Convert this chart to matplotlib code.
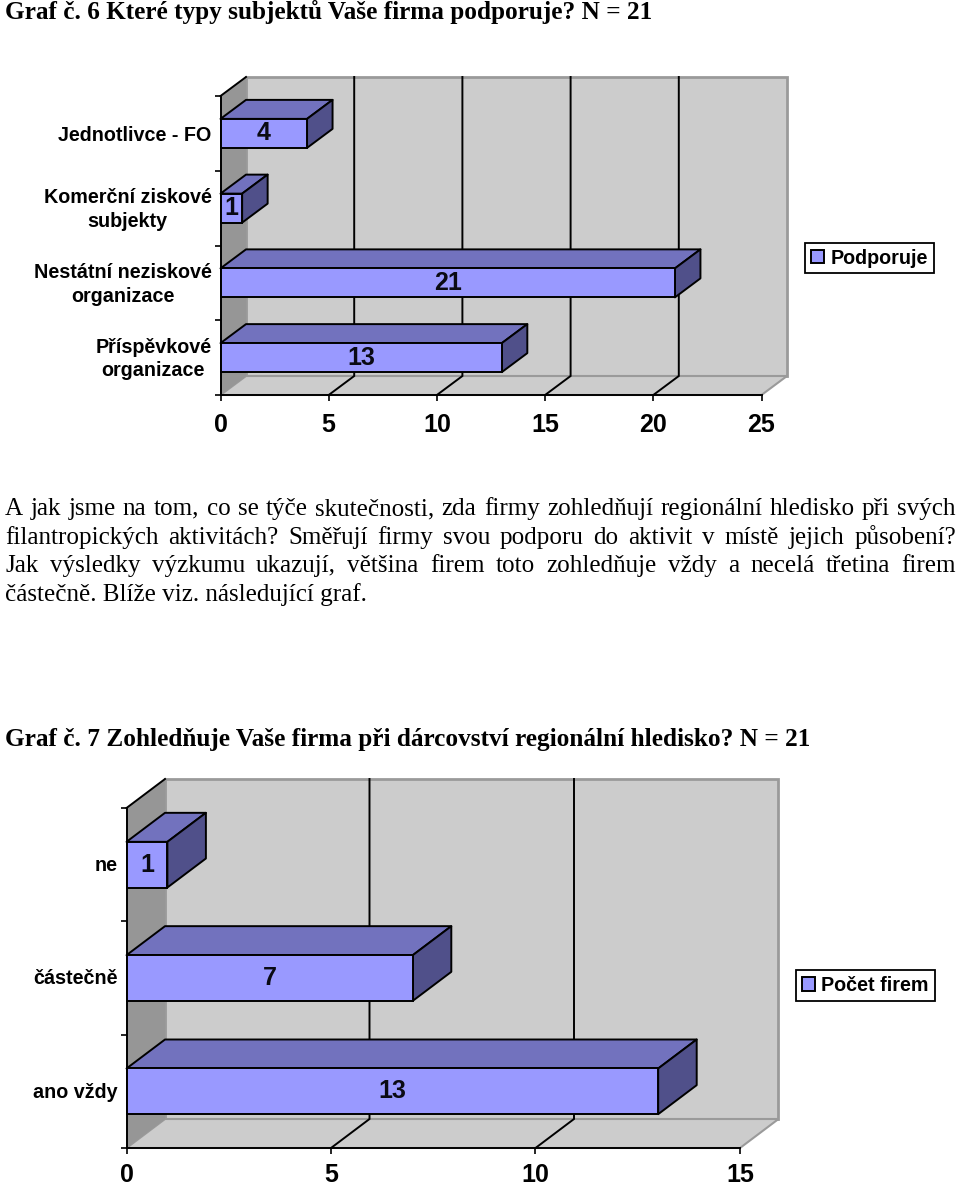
import matplotlib
matplotlib.use("Agg")
import matplotlib.pyplot as plt
from matplotlib.transforms import ScaledTranslation

W, H = 960, 1186
plt.rcParams['font.family'] = ['Liberation Sans', 'DejaVu Sans']

title1 = "Graf č. 6 Které typy subjektů Vaše firma podporuje? N = 21"
title2 = "Graf č. 7 Zohledňuje Vaše firma při dárcovství regionální hledisko? N = 21"
body_lines = [
    "A jak jsme na tom, co se týče skutečnosti, zda firmy zohledňují regionální hledisko při svých",
    "filantropických aktivitách? Směřují firmy svou podporu do aktivit v místě jejich působení?",
    "Jak výsledky výzkumu ukazují, většina firem toto zohledňuje vždy a necelá třetina firem",
    "částečně. Blíže viz. následující graf.",
]

cats1 = ["Jednotlivce - FO", "Komerční ziskové\nsubjekty", "Nestátní neziskové\norganizace", "Příspěvkové\norganizace"]
vals1 = [4, 1, 21, 13]
ticks1 = [0, 5, 10, 15, 20, 25]
legend1 = "Podporuje"

cats2 = ["ne", "částečně", "ano vždy"]
vals2 = [1, 7, 13]
ticks2 = [0, 5, 10, 15]
legend2 = "Počet firem"

FACE, TOP, SIDE = "#9999FF", "#7272BE", "#50508A"
WALL, LEFTWALL, EDGE = "#CCCCCC", "#969696", "#9A9A9A"
LW = 1.4

fig = plt.figure(figsize=(W / 100, H / 100), dpi=100, facecolor="white")


def chart(cats, vals, ticks, label, box, depth, bar_frac, legend_center, xpad, single_up, multi_up):
    x0, x1, ytop, ybot = box
    ax = fig.add_axes([x0 / W, 1 - ybot / H, (x1 - x0) / W, (ybot - ytop) / H])
    n = len(cats)
    ax.set_xlim(ticks[0], ticks[-1])
    ax.set_ylim(n - 0.5, -0.5)
    ax.patch.set_visible(False)
    for s in ax.spines.values():
        s.set_visible(False)
    dx = depth[0] / ((x1 - x0) / ticks[-1])
    dy = depth[1] / ((ybot - ytop) / n)
    bot, top = n - 0.5, -0.5
    xmax = ticks[-1]

    # back wall, left wall, floor
    ax.fill([dx, xmax + dx, xmax + dx, dx], [bot - dy, bot - dy, top - dy, top - dy],
            fc=WALL, ec=EDGE, lw=2, clip_on=False, zorder=1)
    ax.fill([0, xmax, xmax + dx, dx], [bot, bot, bot - dy, bot - dy],
            fc=WALL, ec=EDGE, lw=1.5, clip_on=False, zorder=1.1)
    ax.fill([0, dx, dx, 0], [bot, bot - dy, top - dy, top],
            fc=LEFTWALL, ec="none", clip_on=False, zorder=1.2)
    ax.plot([0, dx], [top, top - dy], color="black", lw=LW, clip_on=False, zorder=1.3)

    # grid on back wall and floor
    for t in ticks[1:-1]:
        ax.plot([t, t + dx, t + dx], [bot, bot - dy, top - dy], color="black", lw=LW,
                clip_on=False, zorder=1.5, solid_joinstyle="miter")

    # axis lines
    ax.plot([0, xmax], [bot, bot], color="black", lw=LW, clip_on=False, zorder=1.6)
    ax.plot([0, 0], [bot, top], color="black", lw=LW, clip_on=False, zorder=1.6)

    # bars
    ax.barh(range(n), vals, height=bar_frac, color=FACE, edgecolor="black",
            linewidth=LW, label=label, zorder=5, clip_on=False)
    for i, v in enumerate(vals):
        yt = i - bar_frac / 2
        yb = i + bar_frac / 2
        z = 3 + i * 0.01
        ax.fill([0, v, v + dx, dx], [yt, yt, yt - dy, yt - dy], fc=TOP, ec="black",
                lw=LW, clip_on=False, zorder=z, joinstyle="round")
        ax.fill([v, v + dx, v + dx, v], [yt, yt - dy, yb - dy, yb], fc=SIDE, ec="black",
                lw=LW, clip_on=False, zorder=z, joinstyle="round")
        ax.text(v / 2, i, str(v), ha="center", va="center", fontsize=18, fontweight="bold",
                color="#0A0A14", zorder=6)

    # ticks
    ax.set_xticks(ticks)
    ax.set_xticklabels([str(t) for t in ticks], fontsize=18, fontweight="bold")
    ax.tick_params(axis="x", length=4.2, width=1.2, pad=xpad)
    ax.set_yticks([i - 0.5 for i in range(n + 1)])
    ax.set_yticklabels([""] * (n + 1))
    ax.tick_params(axis="y", which="major", length=4.2, width=1.2)
    ax.set_yticks(list(range(n)), minor=True)
    ax.set_yticklabels(cats, minor=True, fontsize=14.2, fontweight="bold", multialignment="center",
                       linespacing=1.32)
    ax.tick_params(axis="y", which="minor", length=0, pad=6.5)
    for lab in ax.get_yticklabels(minor=True):
        up = multi_up if "\n" in lab.get_text() else single_up
        lab.set_transform(lab.get_transform() + ScaledTranslation(0, up / 100, fig.dpi_scale_trans))

    # legend
    leg = ax.legend(loc="center", bbox_to_anchor=(legend_center[0] / W, 1 - legend_center[1] / H),
                    bbox_transform=fig.transFigure, frameon=True, fancybox=False, framealpha=1,
                    edgecolor="black", prop={"size": 14.2, "weight": "bold"},
                    handlelength=0.66, handleheight=0.66, handletextpad=0.3,
                    borderpad=0.3, borderaxespad=0)
    leg.get_frame().set_linewidth(1.3)
    return ax


chart(cats1, vals1, ticks1, legend1, (220.5, 761.5, 96, 395), (25.5, 19), 29 / 74.75,
      (869.5, 258), 8.5, 0, 3)
chart(cats2, vals2, ticks2, legend2, (126.5, 740, 808, 1148), (38.5, 29), 45.7 / 113.4,
      (865.5, 985.5), 6.3, 1, 3)

SERIF = ["Liberation Serif", "DejaVu Serif"]
renderer = fig.canvas.get_renderer()


def put(x, y, s, **kw):
    return fig.text(x / W, 1 - y / H, s, family=SERIF, va="baseline", ha="left", **kw)


def justified(line, y, x0, x1, size):
    words = line.split(" ")
    arts = [put(x0, y, w, fontsize=size) for w in words]
    widths = [a.get_window_extent(renderer).width for a in arts]
    gap = (x1 - x0 - sum(widths)) / (len(words) - 1)
    x = x0
    for a, w in zip(arts, widths):
        a.set_x(x / W)
        x += w + gap


put(5, 19, title1, fontsize=18.2, fontweight="bold")
put(5, 746, title2, fontsize=18.2, fontweight="bold")

BODY = 18.1
justified(body_lines[0], 515, 5, 956, BODY)
justified(body_lines[1], 544, 5, 956, BODY)
justified(body_lines[2], 572, 5, 956, BODY)
put(5, 601, body_lines[3], fontsize=BODY)

fig.savefig("out.png", dpi=100)
